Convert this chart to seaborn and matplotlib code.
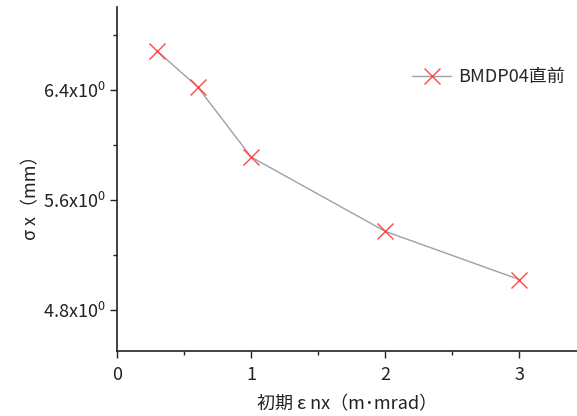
import matplotlib
matplotlib.use("Agg")
import matplotlib.pyplot as plt
from matplotlib.ticker import MultipleLocator, FixedLocator, FixedFormatter
import seaborn as sns
import pandas as pd

# initial normalized emittance vs beam size before BMDP04
emittance = [0.3, 0.6, 1.0, 2.0, 3.0]
sigma_x = [6.68, 6.42, 5.91, 5.37, 5.02]
series_name = "BMDP04直前"
y_ticks = [4.8, 5.6, 6.4]
y_tick_labels = [r"4.8x10$^0$", r"5.6x10$^0$", r"6.4x10$^0$"]

sns.set_theme(style="ticks")
plt.rcParams["font.family"] = ["Noto Sans CJK JP", "DejaVu Sans"]
plt.rcParams["mathtext.fontset"] = "custom"
plt.rcParams["mathtext.rm"] = "Noto Sans CJK JP"

df = pd.DataFrame({"emittance": emittance, "sigma": sigma_x, "series": series_name})

fig = plt.figure(figsize=(5.77, 4.16), dpi=100)
ax = fig.add_axes([0.203, 0.156, 0.797, 0.827])

sns.lineplot(data=df, x="emittance", y="sigma", hue="series", ax=ax,
             palette=["#a0a0a0"], linewidth=1.0, marker="x", markersize=12,
             markeredgecolor="#ff4848", markeredgewidth=1.0)

ax.set_xlim(0, 3.43)
ax.set_ylim(4.5, 7.0)
ax.xaxis.set_major_locator(MultipleLocator(1))
ax.xaxis.set_minor_locator(MultipleLocator(0.5))
ax.yaxis.set_major_locator(FixedLocator(y_ticks))
ax.yaxis.set_major_formatter(FixedFormatter(y_tick_labels))
ax.yaxis.set_minor_locator(FixedLocator([5.2, 6.0, 6.8]))

for side in ("top", "right"):
    ax.spines[side].set_visible(False)
for side in ("left", "bottom"):
    ax.spines[side].set_linewidth(1.2)
    ax.spines[side].set_color("#222222")

ax.tick_params(axis="both", which="major", direction="out", length=5, width=1.0,
               labelsize=13, colors="#222222")
ax.tick_params(axis="x", which="major", pad=6)
ax.tick_params(axis="both", which="minor", direction="out", length=3, width=1.0,
               colors="#222222")

ax.set_xlabel("初期 ε nx（m･mrad）", fontsize=13, color="#222222", labelpad=8)
ax.set_ylabel("σ x（mm）", fontsize=13, color="#222222", labelpad=8)
ax.yaxis.set_label_coords(-0.167, 0.46)

leg = ax.legend(loc="upper right", bbox_to_anchor=(1.01, 0.87), frameon=False,
                fontsize=13, handlelength=2.2, handletextpad=0.4)
for h in leg.legend_handles:
    h.set_markeredgecolor("#ff4848")

fig.savefig("out.png", dpi=100)
